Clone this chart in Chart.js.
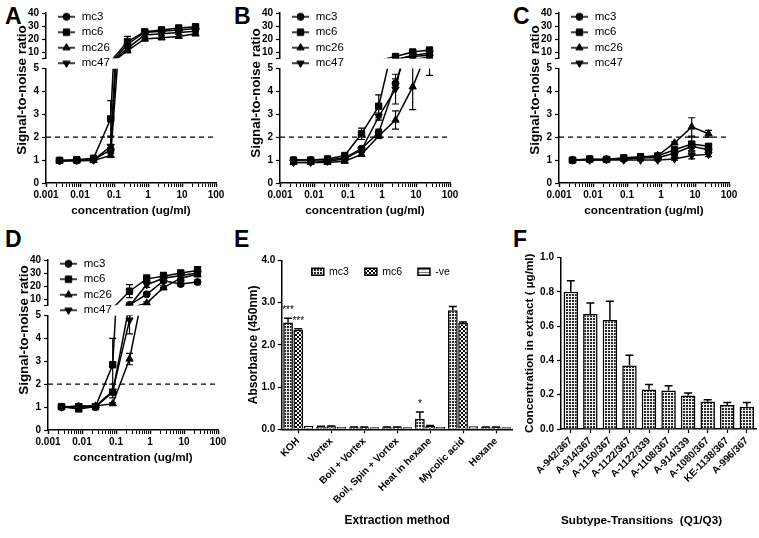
<!DOCTYPE html>
<html>
<head>
<meta charset="utf-8">
<script src="https://cdn.jsdelivr.net/npm/chart.js@4.4.0/dist/chart.umd.min.js"></script>
<style>
  html, body { margin: 0; padding: 0; background: #fff; }
  body { width: 759px; height: 538px; overflow: hidden; position: relative; }
  canvas { position: absolute; }
  .lbl { position: absolute; font: bold 23px "Liberation Sans", Arial, sans-serif; line-height: 1; color: #000; }
</style>
</head>
<body>
<div class="lbl" style="left:5px;top:5px">A</div>
<div class="lbl" style="left:234px;top:5px">B</div>
<div class="lbl" style="left:513px;top:5px">C</div>
<div class="lbl" style="left:5px;top:228px">D</div>
<div class="lbl" style="left:234px;top:228px">E</div>
<div class="lbl" style="left:513px;top:228px">F</div>

<canvas id="cA" width="250" height="255" style="left:0px;top:0px"></canvas>
<canvas id="cB" width="250" height="255" style="left:234px;top:0px"></canvas>
<canvas id="cC" width="250" height="255" style="left:513px;top:0px"></canvas>
<canvas id="cD" width="250" height="255" style="left:2px;top:247px"></canvas>
<canvas id="cE" width="273" height="314" style="left:245px;top:224px"></canvas>
<canvas id="cF" width="259" height="298" style="left:500px;top:240px"></canvas>

<script>
// ---- data: dose-response panels (A-D) ----
const conc = [0.0025, 0.008, 0.025, 0.08, 0.25, 0.8, 2.5, 8, 25];
const strains = ['mc3', 'mc6', 'mc26', 'mc47'];
const xTickLabels = ['0.001', '0.01', '0.1', '1', '10', '100'];
const lowTicks = [0, 1, 2, 3, 4, 5];
const highTicks = [10, 20, 30, 40];
const cutoff = 2;

// A
const aMc3 = [0.97, 0.98, 1.02, 1.45, 16, 25, 26, 27, 28];
const aMc6 = [0.99, 1.02, 1.08, 2.8, 18, 25.5, 27, 28.5, 29.5];
const aMc26 = [0.96, 0.97, 0.98, 1.2, 11, 20, 21, 22, 24];
const aMc47 = [0.97, 1.0, 1.0, 1.6, 13, 23, 24, 25, 26];
const aErr3 = [0.03, 0.03, 0.03, 0.1, 2, 1.5, 1.5, 1.5, 1.5];
const aErr6 = [0.03, 0.04, 0.05, 0.8, 4, 1.5, 1.5, 1.5, 1.5];
const aErr26 = [0.03, 0.03, 0.03, 0.08, 1.5, 1.5, 1.5, 1.5, 1.5];
const aErr47 = [0.03, 0.03, 0.03, 0.45, 2, 1.5, 1.5, 1.5, 1.5];

// B
const bMc3 = [1.0, 1.0, 1.0, 1.1, 1.5, 2.2, 4.35, 6.5, 7.5];
const bMc6 = [1.0, 1.0, 1.05, 1.2, 2.15, 3.35, 6.5, 10, 11.5];
const bMc26 = [0.9, 0.9, 0.9, 0.95, 1.25, 2.05, 2.75, 4.2, 6.0];
const bMc47 = [0.9, 0.9, 0.95, 1.05, 1.45, 2.9, 4.1, 7.5, 9];
const bErr3 = [0.03, 0.03, 0.03, 0.05, 0.08, 0.15, 0.2, 1, 1];
const bErr6 = [0.05, 0.05, 0.05, 0.08, 0.25, 0.5, 0.3, 1.5, 1.5];
const bErr26 = [0.03, 0.03, 0.03, 0.05, 0.08, 0.1, 0.4, 1.0, 1.3];
const bErr47 = [0.03, 0.03, 0.03, 0.05, 0.08, 0.15, 0.65, 1, 1];

// C
const cMc3 = [1.0, 1.02, 1.03, 1.05, 1.1, 1.1, 1.3, 1.6, 1.45];
const cMc6 = [1.0, 1.05, 1.03, 1.1, 1.15, 1.18, 1.45, 1.7, 1.6];
const cMc26 = [1.0, 1.02, 1.03, 1.05, 1.1, 1.2, 1.75, 2.45, 2.15];
const cMc47 = [1.0, 1.0, 1.02, 1.0, 1.0, 1.0, 1.05, 1.2, 1.25];
const cErr3 = [0.02, 0.02, 0.02, 0.03, 0.03, 0.05, 0.1, 0.2, 0.1];
const cErr6 = [0.02, 0.03, 0.02, 0.05, 0.05, 0.05, 0.1, 0.3, 0.1];
const cErr26 = [0.02, 0.02, 0.02, 0.03, 0.05, 0.05, 0.05, 0.4, 0.15];
const cErr47 = [0.02, 0.02, 0.02, 0.03, 0.03, 0.03, 0.05, 0.15, 0.1];

// D
const dMc3 = [1.0, 1.0, 1.0, 1.65, 5.5, 13.6, 24, 21.5, 23];
const dMc6 = [1.02, 0.92, 1.02, 2.85, 16, 25.5, 27.5, 30, 32];
const dMc26 = [1.0, 1.03, 1.05, 1.15, 3.1, 6.8, 18.7, 26, 29];
const dMc47 = [1.0, 1.05, 1.05, 1.7, 4.8, 21, 26, 28, 30];
const dErr3 = [0.03, 0.05, 0.03, 0.1, 0.5, 1.5, 5, 1.5, 1.5];
const dErr6 = [0.05, 0.1, 0.05, 1.15, 5, 3, 3, 2, 3];
const dErr26 = [0.03, 0.05, 0.05, 0.05, 0.25, 1, 1.5, 2, 2];
const dErr47 = [0.05, 0.1, 0.05, 0.3, 0.6, 2, 2, 2, 2];

// ---- data: E (extraction methods) ----
const methods = ['KOH', 'Vortex', 'Boil + Vortex', 'Boil, Spin + Vortex', 'Heat in hexane', 'Mycolic acid', 'Hexane'];
const absMc3 = [2.53, 0.06, 0.05, 0.05, 0.25, 2.82, 0.05];
const absMc3Err = [0.1, 0.01, 0.005, 0.005, 0.16, 0.09, 0.005];
const absMc6 = [2.36, 0.07, 0.05, 0.05, 0.08, 2.52, 0.05];
const absMc6Err = [0.02, 0.01, 0.005, 0.005, 0.01, 0.02, 0.005];
const absNeg = [0.08, 0.06, 0.05, 0.05, 0.06, 0.07, 0.05];
const absNegErr = [0, 0, 0, 0, 0, 0, 0];
const absTicks = [0, 1, 2, 3, 4];
const sigMarks = [
  { method: 0, series: 0, text: '***' },
  { method: 0, series: 1, text: '***' },
  { method: 4, series: 0, text: '*' }
];

// ---- data: F (transitions) ----
const transitions = ['A-942/367', 'A-914/367', 'A-1150/367', 'A-1122/367', 'A-1122/339',
  'A-1108/367', 'A-914/339', 'A-1080/367', 'KE-1138/367', 'A-996/367'];
const concExtract = [0.80, 0.67, 0.635, 0.37, 0.23, 0.225, 0.195, 0.16, 0.14, 0.13];
const concExtractErr = [0.065, 0.065, 0.11, 0.06, 0.03, 0.027, 0.015, 0.01, 0.015, 0.025];
const concTicks = [0, 0.2, 0.4, 0.6, 0.8, 1.0];

// ---- styles ----
Chart.defaults.font.family = '"Liberation Sans", Arial, sans-serif';
Chart.defaults.color = '#000';

const symbols = ['circle', 'rect', 'triangle', 'triangle'];
const symbolTurn = [0, 0, 0, 180];
const symbolSize = [3.5, 4.5, 4.2, 4.2];
const tickFont = { size: 10, weight: 'bold' };
const axisGrid = { drawOnChartArea: false, tickLength: 4, tickColor: '#000', tickWidth: 1.2 };
const axisBorder = { color: '#000', width: 1.5 };
const segRange = { yLow: [0, 5], yHigh: [5, 40] };

// minor ticks of the log axis: 2..9 x each decade
const xMajor = xTickLabels.map(Number);
const xTickValues = [];
xMajor.forEach((m, i) => {
  xTickValues.push(m);
  if (i < xMajor.length - 1) for (let k = 2; k <= 9; k++) xTickValues.push(m * k);
});
function xLabel(v) {
  return xTickLabels.find(l => Math.abs(Math.log10(Number(l)) - Math.log10(v)) < 1e-6) || '';
}

// legend icon: short line with the marker in it
const legendIcons = symbols.map((s, k) => {
  const c = document.createElement('canvas');
  c.width = 24; c.height = 10;
  const g = c.getContext('2d');
  g.strokeStyle = '#000'; g.fillStyle = '#000'; g.lineWidth = 1.5;
  g.beginPath(); g.moveTo(7, 5); g.lineTo(24, 5); g.stroke();
  g.lineWidth = 1;
  Chart.helpers.drawPoint(g, { pointStyle: s, rotation: symbolTurn[k], radius: symbolSize[k], borderWidth: 1 }, 15.5, 5);
  return c;
});

function makePattern(w, h, draw) {
  const c = document.createElement('canvas');
  c.width = w; c.height = h;
  const g = c.getContext('2d');
  draw(g);
  return g.createPattern(c, 'repeat');
}
const patFine = makePattern(3, 3, g => {
  g.fillStyle = '#eee'; g.fillRect(0, 0, 3, 3);
  g.fillStyle = '#2a2a2a'; g.fillRect(0, 0, 2, 2);
});
const patChecker = makePattern(4, 4, g => {
  g.fillStyle = '#fff'; g.fillRect(0, 0, 4, 4);
  g.fillStyle = '#000'; g.fillRect(0, 0, 2, 2); g.fillRect(2, 2, 2, 2);
});
const patStripe = makePattern(3, 3, g => {
  g.fillStyle = '#f2f2f2'; g.fillRect(0, 0, 3, 3);
  g.fillStyle = '#777'; g.fillRect(0, 0, 3, 1);
});

// clip each dataset to its own y segment, then draw its error bars
const errorBars = {
  id: 'errorBars',
  beforeDatasetDraw(chart, args) {
    const { xScale, yScale } = args.meta;
    const ctx = chart.ctx;
    ctx.save();
    ctx.beginPath();
    ctx.rect(xScale.left - 1, yScale.top, xScale.width + 2, yScale.height);
    ctx.clip();
  },
  afterDatasetDraw(chart, args) {
    const ds = chart.data.datasets[args.index];
    const ctx = chart.ctx;
    const yScale = args.meta.yScale;
    if (ds.errors) {
      const isBar = chart.config.type === 'bar';
      const cap = isBar ? 4 : 3.5;
      ctx.strokeStyle = '#000';
      ctx.lineWidth = isBar ? 1.5 : 1.2;
      args.meta.data.forEach((el, i) => {
        const e = ds.errors[i];
        if (!e) return;
        const raw = ds.data[i];
        const v = typeof raw === 'object' ? raw.y : raw;
        const top = yScale.getPixelForValue(v + e);
        const bottom = isBar ? el.y : yScale.getPixelForValue(v - e);
        ctx.beginPath();
        ctx.moveTo(el.x, top); ctx.lineTo(el.x, bottom);
        ctx.moveTo(el.x - cap, top); ctx.lineTo(el.x + cap, top);
        if (!isBar) { ctx.moveTo(el.x - cap, bottom); ctx.lineTo(el.x + cap, bottom); }
        ctx.stroke();
      });
    }
    ctx.restore();
  }
};

// move legend box and y title after layout
const placeLegend = {
  id: 'placeLegend',
  afterLayout(chart, args, opts) {
    const lg = chart.legend;
    if (lg && opts.top !== undefined) {
      const h = lg.height, w = lg.width;
      lg.top = chart.chartArea.top + opts.top;
      lg.bottom = lg.top + h;
      lg.left = chart.chartArea.left + (opts.left || 0);
      lg.right = lg.left + w;
    }
    if (opts.titleShift && chart.scales.yTitle) {
      chart.scales.yTitle.top += opts.titleShift;
      chart.scales.yTitle.bottom += opts.titleShift;
    }
  }
};

const sigStars = {
  id: 'sigStars',
  afterDatasetsDraw(chart) {
    const ctx = chart.ctx;
    const y = chart.scales.y;
    ctx.save();
    ctx.fillStyle = '#000';
    ctx.font = '10px "Liberation Sans", Arial, sans-serif';
    ctx.textAlign = 'center';
    ctx.textBaseline = 'alphabetic';
    sigMarks.forEach(m => {
      const ds = chart.data.datasets[m.series];
      const el = chart.getDatasetMeta(m.series).data[m.method];
      const top = y.getPixelForValue(ds.data[m.method] + ds.errors[m.method]);
      ctx.fillText(m.text, el.x, top - 5);
    });
    ctx.restore();
  }
};

// one piece of the broken y axis; the lower end of the upper piece gets an unlabeled tick
function segAxis(weight, min, max, ticks, breakTick) {
  const values = breakTick ? [min].concat(ticks) : ticks;
  return {
    type: 'linear', position: 'left', stack: 'seg', stackWeight: weight,
    min: min, max: max,
    afterBuildTicks: s => { s.ticks = values.map(v => ({ value: v })); },
    afterFit: s => { s.width = 22; },
    ticks: { autoSkip: false, padding: 3, font: tickFont, color: '#000', callback: v => (ticks.includes(v) ? v : '') },
    grid: axisGrid,
    border: axisBorder
  };
}

function lineChart(id, values, errors, titleShift) {
  const datasets = [];
  ['yLow', 'yHigh'].forEach(axis => {
    const [lo, hi] = segRange[axis];
    strains.forEach((name, k) => {
      datasets.push({
        label: name,
        yAxisID: axis,
        inLegend: axis === 'yLow',
        data: conc.map((c, i) => ({ x: c, y: values[k][i] })),
        errors: errors[k],
        borderColor: '#000',
        backgroundColor: '#000',
        borderWidth: 1.5,
        pointStyle: symbols[k],
        pointRotation: symbolTurn[k],
        // markers belong only to the segment that holds the value
        pointRadius: c => (c.raw && c.raw.y >= lo && c.raw.y <= hi ? symbolSize[k] : 0),
        pointBorderWidth: 1,
        pointBackgroundColor: '#000',
        pointBorderColor: '#000',
        tension: 0
      });
    });
  });
  datasets.push({
    label: '', yAxisID: 'yLow', inLegend: false,
    data: [{ x: 0.001, y: cutoff }, { x: 100, y: cutoff }],
    borderColor: '#000', borderWidth: 1.2, borderDash: [5, 4], pointRadius: 0
  });

  return new Chart(document.getElementById(id), {
    type: 'line',
    data: { datasets: datasets },
    options: {
      responsive: false,
      animation: false,
      events: [],
      layout: { padding: { left: 0, top: 13, right: 34, bottom: 32 } },
      plugins: {
        tooltip: { enabled: false },
        legend: {
          position: 'chartArea',
          align: 'start',
          labels: {
            usePointStyle: true,
            pointStyleWidth: 26,
            padding: 4,
            color: '#000',
            font: { size: 11.5 },
            filter: (item, data) => data.datasets[item.datasetIndex].inLegend,
            generateLabels: chart => Chart.defaults.plugins.legend.labels.generateLabels(chart).map(item => {
              item.pointStyle = legendIcons[item.datasetIndex % 4];
              item.rotation = 0;
              return item;
            })
          }
        },
        placeLegend: { top: -6, left: 0, titleShift: titleShift }
      },
      scales: {
        x: {
          type: 'logarithmic', position: 'bottom', min: 0.001, max: 100,
          afterBuildTicks: s => { s.ticks = xTickValues.map(v => ({ value: v })); },
          afterFit: s => { s.height = 40; },
          ticks: { autoSkip: false, minRotation: 0, maxRotation: 0, padding: 2, font: tickFont, color: '#000', callback: v => xLabel(v) },
          grid: Object.assign({}, axisGrid, { tickWidth: c => (c.tick && xLabel(c.tick.value) ? 1.5 : 1) }),
          border: axisBorder,
          title: { display: true, text: 'concentration (ug/ml)', color: '#000', font: { size: 11.7, weight: 'bold' }, padding: { top: 0, bottom: 5 } }
        },
        yLow: segAxis(114.5, 0, 5, lowTicks, false),
        yGap: {
          type: 'linear', position: 'left', stack: 'seg', stackWeight: 10,
          ticks: { display: false }, grid: { display: false }, border: { display: false },
          afterFit: s => { s.width = 22; }
        },
        yHigh: segAxis(45.5, 5, 40, highTicks, true),
        yTitle: {
          type: 'linear', position: 'left',
          ticks: { display: false }, grid: { display: false }, border: { display: false },
          title: { display: true, text: 'Signal-to-noise ratio', color: '#000', font: { size: 13.4, weight: 'bold' }, padding: { top: 14, bottom: 0 } },
          afterFit: s => { s.width = 24; }
        }
      }
    },
    plugins: [errorBars, placeLegend]
  });
}

lineChart('cA', [aMc3, aMc6, aMc26, aMc47], [aErr3, aErr6, aErr26, aErr47], -8);
lineChart('cB', [bMc3, bMc6, bMc26, bMc47], [bErr3, bErr6, bErr26, bErr47], -5);
lineChart('cC', [cMc3, cMc6, cMc26, cMc47], [cErr3, cErr6, cErr26, cErr47], -8);
lineChart('cD', [dMc3, dMc6, dMc26, dMc47], [dErr3, dErr6, dErr26, dErr47], -15);

// E: grouped bars
new Chart(document.getElementById('cE'), {
  type: 'bar',
  data: {
    labels: methods,
    datasets: [
      { label: 'mc3', data: absMc3, errors: absMc3Err, backgroundColor: patFine, borderColor: '#000', borderWidth: 1.5 },
      { label: 'mc6', data: absMc6, errors: absMc6Err, backgroundColor: patChecker, borderColor: '#000', borderWidth: 1.5 },
      { label: '-ve', data: absNeg, errors: absNegErr, backgroundColor: patStripe, borderColor: '#000', borderWidth: 1.5 }
    ]
  },
  options: {
    responsive: false,
    animation: false,
    events: [],
    layout: { padding: { left: 0, top: 0, right: 5.5, bottom: 8 } },
    datasets: { bar: { categoryPercentage: 0.93, barPercentage: 0.95 } },
    plugins: {
      tooltip: { enabled: false },
      legend: {
        position: 'top', align: 'start',
        labels: { boxWidth: 12, boxHeight: 7, padding: 16, color: '#000', font: { size: 10.5 } }
      },
      placeLegend: { top: -10, left: 14 }
    },
    scales: {
      x: {
        ticks: { autoSkip: false, minRotation: 45, maxRotation: 45, padding: 2, font: tickFont, color: '#000' },
        grid: Object.assign({}, axisGrid, { offset: false }),
        border: axisBorder,
        title: { display: true, text: 'Extraction method', color: '#000', font: { size: 12, weight: 'bold' }, padding: { top: 0, bottom: 2 } },
        afterFit: s => { s.height = 100.7; }
      },
      y: {
        min: 0, max: 4,
        afterBuildTicks: s => { s.ticks = absTicks.map(v => ({ value: v })); },
        ticks: { autoSkip: false, padding: 2.5, font: tickFont, color: '#000', callback: v => Number(v).toFixed(1) },
        grid: axisGrid,
        border: axisBorder,
        title: { display: true, text: 'Absorbance (450nm)', color: '#000', font: { size: 12, weight: 'bold' }, padding: { top: 1.5, bottom: 0 } },
        afterFit: s => { s.width = 36.8; }
      }
    }
  },
  plugins: [errorBars, placeLegend, sigStars]
});

// F: single series bars
new Chart(document.getElementById('cF'), {
  type: 'bar',
  data: {
    labels: transitions,
    datasets: [{
      label: 'concentration', data: concExtract, errors: concExtractErr,
      backgroundColor: patFine, borderColor: '#000', borderWidth: 1.5,
      categoryPercentage: 0.74, barPercentage: 1
    }]
  },
  options: {
    responsive: false,
    animation: false,
    events: [],
    layout: { padding: { left: 0, top: 17.5, right: 2.4, bottom: 8 } },
    plugins: { legend: { display: false }, tooltip: { enabled: false } },
    scales: {
      x: {
        ticks: { autoSkip: false, minRotation: 45, maxRotation: 45, padding: 2, font: tickFont, color: '#000' },
        grid: Object.assign({}, axisGrid, { offset: false }),
        border: axisBorder,
        title: { display: true, align: 'start', text: 'Subtype-Transitions  (Q1/Q3)', color: '#000', font: { size: 11.7, weight: 'bold' }, padding: { top: 0, bottom: 2 } },
        afterFit: s => { s.height = 101; }
      },
      y: {
        min: 0, max: 1,
        afterBuildTicks: s => { s.ticks = concTicks.map(v => ({ value: v })); },
        ticks: { autoSkip: false, padding: 3, font: tickFont, color: '#000', callback: v => Number(v).toFixed(1) },
        grid: axisGrid,
        border: axisBorder,
        title: { display: true, text: 'Concentration in extract ( \u00b5g/ml)', color: '#000', font: { size: 11.7, weight: 'bold' }, padding: { top: 23, bottom: 0 } },
        afterFit: s => { s.width = 61; }
      }
    }
  },
  plugins: [errorBars]
});
</script>
</body>
</html>
